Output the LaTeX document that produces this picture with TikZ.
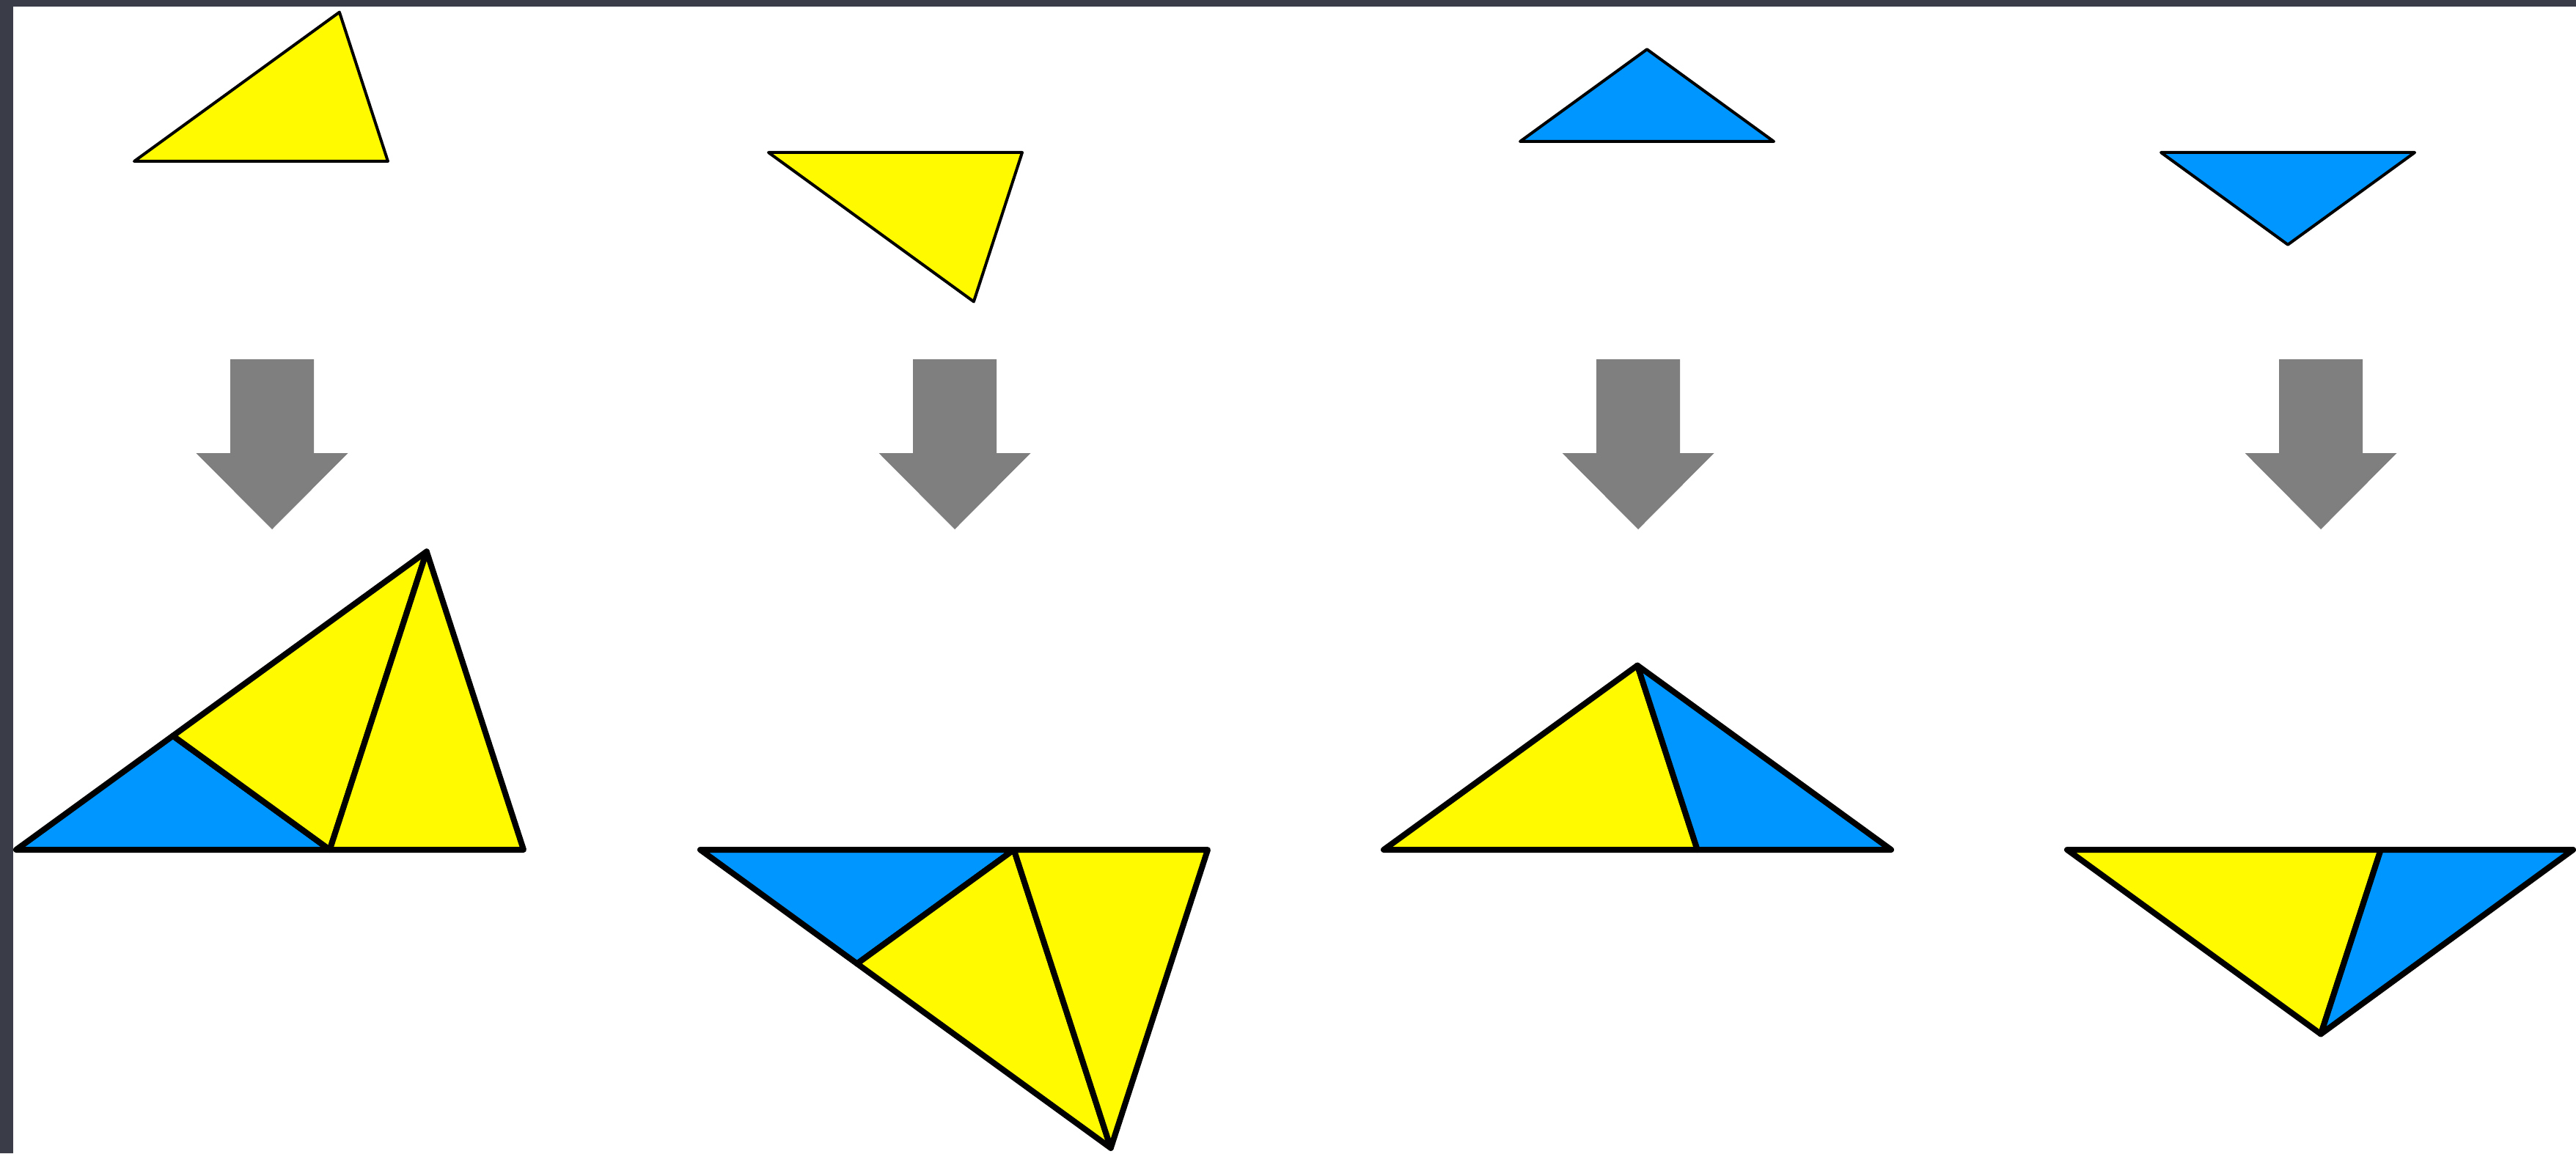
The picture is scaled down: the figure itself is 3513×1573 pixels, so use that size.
\documentclass[tikz,border=0pt]{standalone}
\definecolor{framec}{RGB}{58,61,72}
\definecolor{tileyellow}{RGB}{255,250,0}
\definecolor{tileblue}{RGB}{0,150,255}
\definecolor{arrowgray}{RGB}{127,127,127}
\tikzset{
  smalltile/.style={draw=black, line width=0.04cm, line join=round},
  bigtile/.style={draw=black, line width=0.08cm, line join=round},
  yel/.style={fill=tileyellow},
  blu/.style={fill=tileblue},
  downarrow/.style={fill=arrowgray, draw=none}
}
\newcommand{\downarr}[1]{%
  \fill[downarrow] (#1-57,490) -- (#1+57,490) -- (#1+57,618) -- (#1+103.5,618)
    -- (#1,722) -- (#1-103.5,618) -- (#1-57,618) -- cycle;}
\begin{document}
\begin{tikzpicture}[x=0.01cm,y=-0.01cm]
\useasboundingbox (0,0) rectangle (3513,1573);
\fill[framec] (0,0) rectangle (3513,1573);
\fill[white] (18,9) rectangle (3513,1573);

% ---- top tiles ----
\coordinate (t1a) at (183,220);
\coordinate (t1b) at (462.9,16.6);
\coordinate (t1c) at (529,220);
\filldraw[smalltile,yel] (t1a) -- (t1b) -- (t1c) -- cycle;

\coordinate (t2a) at (1048,208);
\coordinate (t2b) at (1327.9,411.4);
\coordinate (t2c) at (1394,208);
\filldraw[smalltile,yel] (t2a) -- (t2b) -- (t2c) -- cycle;

\coordinate (t3l) at (2073,193);
\coordinate (t3x) at (2246,67.3);
\coordinate (t3r) at (2419,193);
\filldraw[smalltile,blu] (t3l) -- (t3x) -- (t3r) -- cycle;

\coordinate (t4l) at (2947,208);
\coordinate (t4x) at (3120,333.7);
\coordinate (t4r) at (3293,208);
\filldraw[smalltile,blu] (t4l) -- (t4x) -- (t4r) -- cycle;

% ---- arrows ----
\downarr{371}
\downarr{1302}
\downarr{2234}
\downarr{3165}

% ---- column 1: subdivided golden triangle ----
\coordinate (b1a) at (22,1159);
\coordinate (b1b) at (581.8,752.3);
\coordinate (b1c) at (714,1159);
\coordinate (b1p) at (235.8,1003.6);
\coordinate (b1q) at (449.7,1159);
\filldraw[bigtile,blu] (b1a) -- (b1p) -- (b1q) -- cycle;
\filldraw[bigtile,yel] (b1p) -- (b1b) -- (b1q) -- cycle;
\filldraw[bigtile,yel] (b1q) -- (b1b) -- (b1c) -- cycle;

% ---- column 2: mirrored golden triangle ----
\coordinate (b2a) at (955,1159);
\coordinate (b2b) at (1514.8,1565.8);
\coordinate (b2c) at (1647,1159);
\coordinate (b2p) at (1168.8,1314.4);
\coordinate (b2q) at (1382.7,1159);
\filldraw[bigtile,blu] (b2a) -- (b2p) -- (b2q) -- cycle;
\filldraw[bigtile,yel] (b2p) -- (b2b) -- (b2q) -- cycle;
\filldraw[bigtile,yel] (b2q) -- (b2b) -- (b2c) -- cycle;

% ---- column 3: subdivided gnomon ----
\coordinate (b3l) at (1887,1159);
\coordinate (b3x) at (2233,907.6);
\coordinate (b3r) at (2579,1159);
\coordinate (b3q) at (2314.7,1159);
\filldraw[bigtile,yel] (b3l) -- (b3x) -- (b3q) -- cycle;
\filldraw[bigtile,blu] (b3x) -- (b3r) -- (b3q) -- cycle;

% ---- column 4: mirrored gnomon ----
\coordinate (b4l) at (2819,1159);
\coordinate (b4x) at (3165,1410.4);
\coordinate (b4r) at (3509,1159);
\coordinate (b4q) at (3246.7,1159);
\filldraw[bigtile,yel] (b4l) -- (b4q) -- (b4x) -- cycle;
\filldraw[bigtile,blu] (b4q) -- (b4r) -- (b4x) -- cycle;
\end{tikzpicture}
\end{document}
